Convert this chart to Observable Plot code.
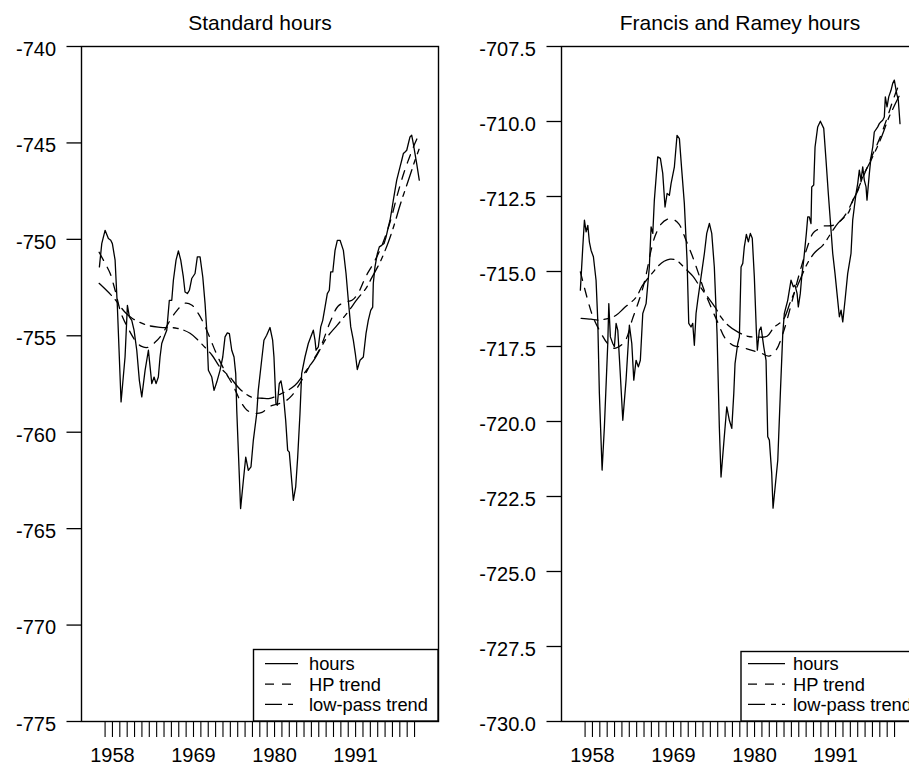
<!DOCTYPE html>
<html><head><meta charset="utf-8">
<script src="https://cdn.jsdelivr.net/npm/d3@7"></script>
<script src="https://cdn.jsdelivr.net/npm/@observablehq/plot@0.6"></script>
<style>
html,body{margin:0;padding:0;background:#fff;overflow:hidden;width:909px;height:765px}
#wrap{position:relative;width:909px;height:765px;overflow:hidden}
#wrap > svg{position:absolute;top:0}
</style></head><body><div id="wrap"></div>
<script>
// ---- data (year, value) ----
const stdHours = [[1956.23,-751.43],[1956.55,-750.22],[1957.00,-749.53],[1957.45,-749.96],[1957.77,-750.05],[1957.99,-750.22],[1958.36,-751.08],[1958.67,-753.51],[1959.17,-758.43],[1959.71,-756.10],[1960.03,-753.42],[1960.30,-754.02],[1960.62,-754.20],[1960.93,-754.71],[1961.30,-755.75],[1961.65,-757.31],[1961.98,-758.17],[1962.43,-756.79],[1962.88,-755.75],[1963.34,-757.48],[1963.65,-757.14],[1963.92,-757.48],[1964.23,-757.14],[1964.46,-756.10],[1964.69,-755.40],[1965.01,-755.06],[1965.37,-754.71],[1965.72,-753.16],[1966.05,-753.16],[1966.27,-752.12],[1966.63,-751.08],[1966.95,-750.60],[1967.27,-751.08],[1967.62,-751.95],[1967.85,-752.73],[1968.17,-752.81],[1968.44,-752.64],[1968.76,-752.03],[1969.21,-751.77],[1969.52,-750.91],[1969.89,-750.91],[1970.26,-751.95],[1970.57,-753.33],[1970.80,-754.71],[1971.02,-756.79],[1971.48,-757.14],[1971.79,-757.83],[1972.16,-757.40],[1972.60,-756.79],[1972.97,-756.10],[1973.28,-755.06],[1973.59,-754.85],[1973.87,-754.89],[1974.19,-755.75],[1974.50,-756.10],[1974.73,-756.96],[1974.87,-758.86],[1975.39,-763.96],[1975.77,-762.49],[1976.09,-761.29],[1976.44,-761.98],[1976.80,-761.80],[1977.12,-760.42],[1977.58,-759.04],[1977.79,-757.83],[1978.25,-756.27],[1978.56,-755.23],[1978.93,-754.97],[1979.38,-754.57],[1979.74,-755.23],[1979.92,-756.10],[1980.19,-758.52],[1980.37,-758.60],[1980.64,-757.48],[1980.87,-757.34],[1981.18,-758.00],[1981.51,-759.38],[1981.78,-760.94],[1982.00,-761.03],[1982.32,-762.49],[1982.55,-763.53],[1982.87,-762.84],[1983.14,-761.29],[1983.45,-759.04],[1983.68,-756.96],[1984.13,-756.10],[1984.58,-755.40],[1984.91,-755.06],[1985.26,-754.71],[1985.49,-755.23],[1985.63,-755.75],[1985.94,-755.58],[1986.27,-754.54],[1986.54,-754.20],[1986.85,-753.51],[1987.16,-752.81],[1987.43,-752.64],[1987.62,-751.69],[1987.90,-751.69],[1988.21,-750.57],[1988.52,-750.05],[1988.89,-750.05],[1989.34,-750.57],[1989.70,-751.77],[1990.01,-753.16],[1990.34,-754.54],[1990.69,-755.23],[1990.96,-755.92],[1991.23,-756.75],[1991.60,-756.27],[1992.05,-756.10],[1992.41,-754.89],[1992.72,-754.20],[1993.05,-753.68],[1993.32,-753.51],[1993.40,-752.29],[1993.63,-751.43],[1993.95,-750.74],[1994.22,-750.39],[1994.54,-750.31],[1994.86,-750.22],[1995.13,-749.88],[1995.44,-749.36],[1995.67,-749.01],[1995.90,-748.49],[1996.12,-747.97],[1996.35,-747.45],[1996.58,-746.93],[1996.80,-746.59],[1997.03,-746.24],[1997.26,-745.90],[1997.48,-745.55],[1997.71,-745.47],[1997.94,-745.38],[1998.16,-745.03],[1998.38,-744.69],[1998.61,-744.60],[1998.83,-745.03],[1999.06,-745.55],[1999.29,-746.07],[1999.64,-746.93]];

const stdHP = [[1956.19,-750.67],[1957.00,-751.24],[1957.68,-751.76],[1958.36,-752.64],[1959.17,-753.83],[1960.12,-754.61],[1961.07,-755.23],[1961.88,-755.54],[1962.83,-755.60],[1963.78,-755.34],[1964.73,-754.92],[1965.82,-754.20],[1966.77,-753.68],[1967.85,-753.31],[1968.80,-753.42],[1969.62,-753.83],[1970.43,-754.40],[1971.25,-755.13],[1972.20,-756.01],[1973.42,-756.94],[1974.37,-757.57],[1975.32,-758.35],[1976.27,-758.86],[1977.35,-759.02],[1978.30,-758.97],[1979.39,-758.66],[1980.34,-758.55],[1981.42,-758.40],[1982.37,-758.09],[1983.46,-757.46],[1984.82,-756.53],[1986.17,-755.65],[1987.53,-754.30],[1988.61,-753.47],[1989.56,-753.26],[1990.51,-753.16],[1991.33,-752.80],[1992.41,-751.91],[1993.50,-751.19],[1994.58,-750.31],[1995.67,-749.11],[1996.76,-747.56],[1997.58,-746.52],[1998.26,-745.79],[1998.94,-745.12],[1999.61,-744.55]];

const stdLowPass = [[1956.19,-752.28],[1958.09,-753.00],[1959.71,-753.78],[1960.66,-754.09],[1962.70,-754.45],[1964.46,-754.56],[1966.77,-754.61],[1968.53,-754.87],[1970.03,-755.39],[1971.52,-756.01],[1972.60,-756.63],[1973.96,-757.15],[1975.32,-757.77],[1976.95,-758.19],[1978.30,-758.24],[1979.39,-758.24],[1981.02,-757.98],[1982.78,-757.57],[1984.14,-756.89],[1985.49,-756.17],[1987.12,-755.08],[1988.48,-754.46],[1989.83,-753.83],[1991.33,-753.05],[1992.41,-752.54],[1993.22,-751.97],[1994.31,-751.19],[1995.39,-750.20],[1996.35,-749.11],[1997.03,-748.23],[1997.71,-747.45],[1998.39,-746.68],[1999.06,-745.90],[1999.61,-745.33]];

const frHours = [[1956.36,-715.62],[1956.69,-714.18],[1956.91,-713.29],[1957.14,-713.68],[1957.37,-713.46],[1957.58,-714.01],[1957.81,-714.29],[1958.13,-714.51],[1958.49,-715.29],[1958.72,-716.62],[1958.94,-719.07],[1959.31,-721.62],[1959.62,-720.18],[1960.08,-717.40],[1960.22,-716.07],[1960.43,-717.18],[1960.76,-717.40],[1960.98,-717.51],[1961.21,-716.73],[1961.44,-716.96],[1961.75,-718.29],[1962.12,-719.96],[1962.56,-718.62],[1963.01,-716.79],[1963.34,-717.40],[1963.61,-718.62],[1963.92,-717.96],[1964.23,-718.18],[1964.50,-717.96],[1964.83,-716.40],[1965.28,-716.07],[1965.72,-714.85],[1965.96,-713.51],[1966.19,-713.73],[1966.40,-712.62],[1966.86,-711.18],[1967.22,-711.23],[1967.54,-711.73],[1967.85,-712.85],[1968.13,-712.40],[1968.44,-712.46],[1968.67,-712.07],[1969.12,-711.51],[1969.48,-710.46],[1969.80,-710.57],[1970.12,-711.62],[1970.47,-712.73],[1970.84,-714.62],[1971.07,-716.73],[1971.38,-716.85],[1971.61,-716.73],[1971.83,-717.46],[1972.06,-716.40],[1972.29,-715.96],[1972.74,-715.18],[1973.19,-714.40],[1973.51,-713.73],[1973.87,-713.40],[1974.19,-713.73],[1974.54,-714.85],[1974.91,-717.07],[1975.22,-720.18],[1975.45,-721.85],[1975.82,-720.73],[1976.23,-719.51],[1976.58,-719.96],[1976.91,-720.23],[1977.18,-719.07],[1977.35,-718.07],[1977.72,-717.40],[1977.94,-717.18],[1978.17,-714.85],[1978.40,-714.73],[1978.61,-714.18],[1978.89,-713.76],[1979.16,-714.01],[1979.43,-713.73],[1979.69,-713.89],[1979.97,-715.18],[1980.24,-716.96],[1980.38,-717.62],[1980.65,-716.96],[1980.88,-716.85],[1981.25,-717.51],[1981.56,-717.96],[1981.79,-720.51],[1982.01,-720.62],[1982.33,-721.73],[1982.51,-722.89],[1983.15,-721.29],[1983.50,-719.07],[1983.83,-717.07],[1984.04,-716.40],[1984.50,-715.96],[1984.95,-715.29],[1985.26,-715.51],[1985.49,-715.46],[1985.77,-715.73],[1985.94,-716.18],[1986.21,-715.73],[1986.40,-715.18],[1986.67,-714.62],[1986.85,-714.18],[1987.03,-713.73],[1987.22,-713.18],[1987.43,-713.18],[1987.66,-713.40],[1987.76,-712.18],[1988.03,-712.12],[1988.21,-710.85],[1988.57,-710.18],[1988.93,-709.99],[1989.39,-710.23],[1989.70,-711.29],[1990.01,-712.40],[1990.28,-713.29],[1990.61,-714.40],[1990.92,-715.07],[1991.19,-715.73],[1991.51,-716.51],[1991.74,-716.29],[1991.97,-716.68],[1992.28,-715.96],[1992.64,-715.07],[1993.09,-714.40],[1993.32,-713.29],[1993.54,-712.85],[1993.77,-712.40],[1994.00,-712.07],[1994.22,-711.62],[1994.45,-711.96],[1994.68,-711.51],[1994.90,-711.96],[1995.13,-712.18],[1995.26,-712.62],[1995.58,-711.73],[1995.81,-711.18],[1996.04,-710.85],[1996.25,-710.35],[1996.72,-710.18],[1996.93,-710.07],[1997.16,-710.01],[1997.39,-709.96],[1997.61,-709.85],[1997.75,-709.18],[1997.98,-709.51],[1998.21,-709.18],[1998.52,-708.96],[1998.75,-708.73],[1998.97,-708.62],[1999.29,-709.07],[1999.51,-709.29],[1999.74,-710.07]];

const frHP = [[1956.36,-715.01],[1957.37,-715.96],[1958.09,-716.52],[1959.17,-717.06],[1960.12,-717.42],[1960.93,-717.56],[1961.88,-717.46],[1962.56,-717.26],[1963.38,-716.62],[1964.19,-716.06],[1964.87,-715.52],[1965.41,-714.96],[1965.96,-714.29],[1966.50,-713.82],[1967.31,-713.42],[1968.13,-713.26],[1968.94,-713.26],[1969.75,-713.42],[1970.70,-713.96],[1971.52,-714.46],[1972.33,-715.02],[1973.15,-715.62],[1974.10,-716.19],[1975.05,-716.72],[1976.00,-717.22],[1977.08,-717.46],[1978.17,-717.52],[1979.52,-717.62],[1980.88,-717.72],[1981.97,-717.82],[1982.92,-717.62],[1983.86,-717.06],[1984.95,-716.12],[1986.03,-715.12],[1987.12,-714.22],[1987.94,-713.72],[1988.62,-713.59],[1989.29,-713.49],[1990.65,-713.46],[1991.74,-713.29],[1992.69,-712.96],[1993.64,-712.46],[1994.72,-711.86],[1995.81,-711.22],[1996.89,-710.62],[1997.98,-709.89],[1998.79,-709.29],[1999.61,-708.76]];

const frLowPass = [[1956.46,-716.56],[1957.81,-716.59],[1958.76,-716.62],[1960.26,-716.56],[1961.21,-716.46],[1962.29,-716.22],[1963.92,-715.86],[1964.73,-715.49],[1965.55,-715.22],[1966.23,-715.02],[1966.91,-714.82],[1967.72,-714.66],[1968.53,-714.59],[1969.35,-714.62],[1970.03,-714.76],[1970.84,-714.96],[1971.65,-715.16],[1972.47,-715.46],[1973.55,-715.82],[1974.64,-716.19],[1975.45,-716.52],[1976.40,-716.79],[1977.76,-717.02],[1979.12,-717.16],[1980.61,-717.19],[1981.70,-717.16],[1982.65,-716.86],[1983.86,-716.62],[1984.95,-715.96],[1986.03,-715.36],[1987.26,-714.69],[1988.21,-714.36],[1989.29,-714.12],[1990.38,-713.72],[1991.33,-713.39],[1992.69,-713.06],[1993.37,-712.62],[1994.05,-712.29],[1994.72,-711.82],[1995.81,-711.29],[1997.16,-710.56],[1998.24,-709.86],[1999.61,-709.16]];

const yearTicks = d3.range(1957, 2000);
const labelYears = [1958, 1969, 1980, 1991];
const stdTicks = [-775, -770, -765, -760, -755, -750, -745, -740];
const frTicks = [-730, -727.5, -725, -722.5, -720, -717.5, -715, -712.5, -710, -707.5];
const titles = ["Standard hours", "Francis and Ramey hours"];
const legendLabels = ["hours", "HP trend", "low-pass trend"];

// ---- styling ----
const FONT = '"Liberation Sans", Arial, Helvetica, sans-serif';
const xDomain = [1953.8, 2002.25];
const DASH_HP = "9,8";
const DASH_LP = "17,6,5,6";
const LW = 1.3;

function panel(cfg) {
  const rows = arr => arr.map(([t, v]) => ({t, v}));
  return Plot.plot({
    width: cfg.width, height: 765,
    marginTop: 46, marginBottom: 44, marginLeft: cfg.marginLeft, marginRight: cfg.marginRight,
    style: {fontFamily: FONT, color: "#000", background: "transparent", overflow: "visible"},
    x: {domain: xDomain},
    y: {domain: cfg.yDomain},
    marks: [
      Plot.axisY({ticks: cfg.yTicks, tickSize: 14.5, tickFormat: () => "", label: null, strokeWidth: LW}),
      Plot.axisY({ticks: cfg.yTicks, tickSize: 0, tickPadding: 25.5, dy: 3, fontSize: 20,
                  tickFormat: cfg.yFmt, label: null}),
      Plot.axisX({ticks: yearTicks, tickSize: 16, tickPadding: 10.5, fontSize: 20, label: null, strokeWidth: 1.1,
                  tickFormat: d => labelYears.includes(d) ? String(d) : ""}),
      Plot.line(rows(cfg.lp), {x: "t", y: "v", stroke: "#000", strokeWidth: LW, strokeDasharray: DASH_LP, curve: "catmull-rom"}),
      Plot.line(rows(cfg.hp), {x: "t", y: "v", stroke: "#000", strokeWidth: LW, strokeDasharray: DASH_HP, curve: "catmull-rom"}),
      Plot.line(rows(cfg.hours), {x: "t", y: "v", stroke: "#000", strokeWidth: LW}),
      Plot.frame({stroke: "#000", strokeWidth: 1.4}),
      Plot.text([cfg.title], {text: d => d, frameAnchor: "top", lineAnchor: "bottom", dy: -17, fontSize: 21})
    ]
  });
}

const wrap = document.getElementById("wrap");
const left = panel({title: titles[0], hours: stdHours, hp: stdHP, lp: stdLowPass,
  yDomain: [-775, -740], yTicks: stdTicks, yFmt: d => d.toFixed(0),
  width: 455, marginLeft: 81, marginRight: 17});
left.style.left = "0px";
wrap.appendChild(left);

const right = panel({title: titles[1], hours: frHours, hp: frHP, lp: frLowPass,
  yDomain: [-730, -707.5], yTicks: frTicks, yFmt: d => d.toFixed(1),
  width: 480, marginLeft: 106, marginRight: 17});
right.style.left = "455px";
wrap.appendChild(right);

// ---- legends ----
const overlay = d3.select(wrap).append("svg")
  .attr("width", 909).attr("height", 765)
  .style("left", "0px").style("font-family", FONT);

function legend(box, sx0, sx1, tx) {
  const g = overlay.append("g");
  g.append("rect").attr("x", box[0]).attr("y", box[1]).attr("width", box[2]).attr("height", box[3])
    .attr("fill", "#fff").attr("stroke", "#000").attr("stroke-width", 1.4);
  const baselines = [670, 690.5, 710.7];
  const dashes = [null, DASH_HP, DASH_LP];
  legendLabels.forEach((lab, i) => {
    const ly = baselines[i] - 6.3;
    const ln = g.append("line").attr("x1", sx0).attr("x2", sx1).attr("y1", ly).attr("y2", ly)
      .attr("stroke", "#000").attr("stroke-width", LW);
    if (dashes[i]) ln.attr("stroke-dasharray", dashes[i]);
    g.append("text").attr("x", tx).attr("y", baselines[i]).attr("font-size", 18.3).attr("fill", "#000").text(lab);
  });
}
legend([253.5, 649.5, 184.5, 71.5], 265, 298, 309);
legend([741, 651.5, 185, 69.5], 748, 785, 793);
</script>
</body></html>
